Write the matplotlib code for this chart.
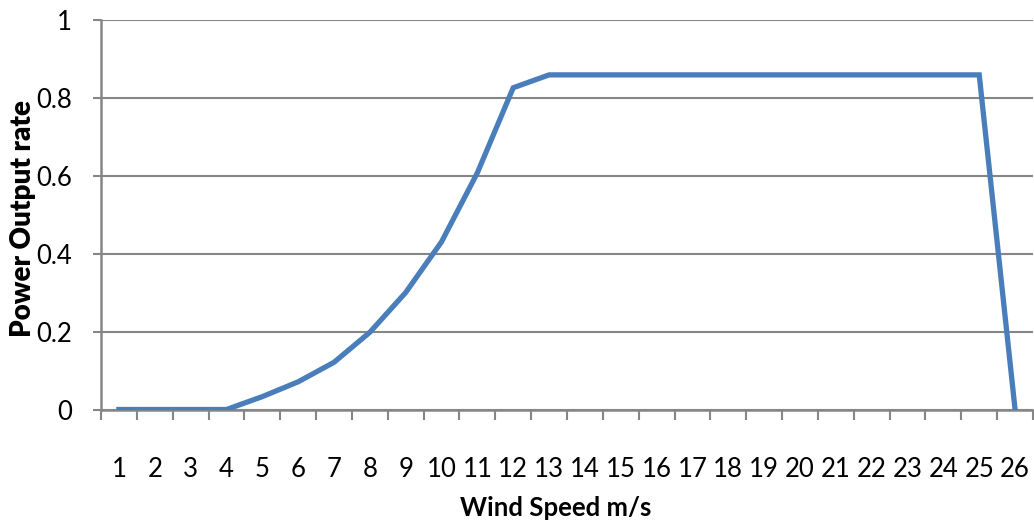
import matplotlib
matplotlib.use("Agg")
import matplotlib.pyplot as plt
from matplotlib.ticker import FixedLocator, FixedFormatter

wind_speed = list(range(1, 27))
power_rate = [0, 0, 0, 0, 0.033, 0.071, 0.121, 0.198, 0.30, 0.43, 0.607, 0.825,
              0.858, 0.858, 0.858, 0.858, 0.858, 0.858, 0.858, 0.858, 0.858,
              0.858, 0.858, 0.858, 0.858, 0]
y_ticks = [0, 0.2, 0.4, 0.6, 0.8, 1]
y_labels = ["0", "0.2", "0.4", "0.6", "0.8", "1"]

plt.rcParams["font.family"] = ["Lato", "DejaVu Sans"]
axis_grey = "#868686"

fig = plt.figure(figsize=(10.34, 5.22), dpi=100)
ax = fig.add_axes([101 / 1034, 1 - 409.5 / 522, 932 / 1034, 390 / 522])

ax.plot(wind_speed, power_rate, color="#4A7EBB", linewidth=3.8,
        solid_joinstyle="miter", zorder=3)

ax.set_xlim(0.5, 26.5)
ax.set_ylim(0, 1)

# category labels sit in the middle, tick marks between categories
ax.xaxis.set_major_locator(FixedLocator([x + 0.5 for x in range(0, 27)]))
ax.xaxis.set_major_formatter(FixedFormatter([""] * 27))
ax.xaxis.set_minor_locator(FixedLocator(wind_speed))
ax.xaxis.set_minor_formatter(FixedFormatter([str(w) for w in wind_speed]))
ax.tick_params(axis="x", which="major", direction="out", length=7, width=1.5,
               color=axis_grey)
ax.tick_params(axis="x", which="minor", length=0, pad=34, labelsize=18.5)

ax.set_yticks(y_ticks)
ax.set_yticklabels(y_labels)
ax.tick_params(axis="y", direction="out", length=6, width=1.5, color=axis_grey,
               labelsize=18.5, pad=15)

ax.yaxis.grid(True, color=axis_grey, linewidth=1.5)
ax.set_axisbelow(True)
for side in ["top", "right"]:
    ax.spines[side].set_visible(False)
for side in ["left", "bottom"]:
    ax.spines[side].set_color(axis_grey)
    ax.spines[side].set_linewidth(1.8)

ax.set_xlabel("Wind Speed m/s", fontsize=18.5, fontweight="bold")
ax.xaxis.set_label_coords(0.488, -0.222)
ax.set_ylabel("Power Output rate", fontsize=20, fontweight="heavy")
ax.yaxis.set_label_coords(-0.070, 0.49)

fig.savefig("out.png", dpi=100)
